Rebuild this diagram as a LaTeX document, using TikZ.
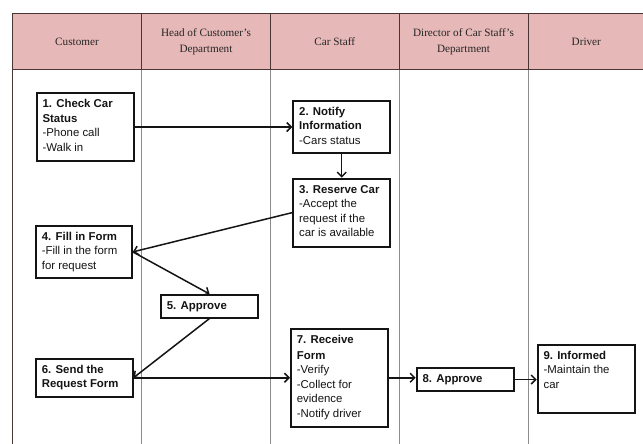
\documentclass[tikz,border=0pt]{standalone}
\usepackage{fontspec}
\setmainfont{Liberation Serif}
\newfontfamily\boxfont{Liberation Sans}
\usetikzlibrary{arrows.meta}

\definecolor{headfill}{HTML}{E6B8B7}
\definecolor{headrule}{HTML}{4A3434}
\definecolor{lanerule}{HTML}{8C8C8C}
\definecolor{ink}{HTML}{141414}

% body of a step box: fixed width/height, text pinned to the top
\newcommand{\stepcontent}[3]{\parbox[c][#2pt][t]{#1pt}{\raggedright\strut#3}}

\tikzset{
  stepbox/.style={draw=ink, line width=1.8pt, fill=white, anchor=north west,
    inner xsep=6pt, inner ysep=4.3pt, text=ink,
    font=\boxfont\fontsize{11.4}{14.5}\selectfont},
  lanehead/.style={align=center, text=black!85,
    font=\fontsize{11.2}{15.7}\selectfont},
  flow/.style={draw=ink, line width=1.5pt,
    -{Straight Barb[length=4.5pt,width=9pt,line width=1.5pt]}},
}

\begin{document}
\begin{tikzpicture}[x=1pt,y=-1pt]
\useasboundingbox (0,0) rectangle (643,444);
\clip (0,0) rectangle (643,444);

% swimlane header band
\fill[headfill] (12.5,13.3) rectangle (644.5,70);
\draw[lanerule, line width=1pt]
  (141.5,70) -- (141.5,444)
  (270.5,70) -- (270.5,444)
  (399,70) -- (399,444)
  (528,70) -- (528,444);
\draw[headrule, line width=1pt]
  (12.5,444) -- (12.5,13.3) -- (644.5,13.3) -- (644.5,444)
  (12.5,70) -- (644.5,70)
  (141.5,13.3) -- (141.5,70)
  (270.5,13.3) -- (270.5,70)
  (399,13.3) -- (399,70)
  (528,13.3) -- (528,70);

\node[lanehead] (hcust) at (77,41.7) {Customer};
\node[lanehead] (hhead) at (206,41.7) {Head of Customer's\\Department};
\node[lanehead] (hstaff) at (334.75,41.7) {Car Staff};
\node[lanehead] (hdir) at (463.5,41.7) {Director of Car Staff's\\Department};
\node[lanehead] (hdrv) at (586.3,41.7) {Driver};

% process steps
\node[stepbox] (b1) at (35.7,92.3)
  {\stepcontent{85}{59.1}{\textbf{1. Check Car}\\\textbf{Status}\\-Phone call\\-Walk in}};
\node[stepbox] (b2) at (292.3,100)
  {\stepcontent{85}{43.4}{\textbf{2. Notify}\\\textbf{Information}\\-Cars status}};
\node[stepbox] (b3) at (292.3,177.7)
  {\stepcontent{85}{59.4}{\textbf{3. Reserve Car}\\-Accept the\\request if the\\car is available}};
\node[stepbox] (b4) at (35,225)
  {\stepcontent{84}{43.4}{\textbf{4. Fill in Form}\\-Fill in the form\\for request}};
\node[stepbox] (b5) at (160,294)
  {\stepcontent{85.3}{14.1}{\textbf{5. Approve}}};
\node[stepbox] (b6) at (35,358)
  {\stepcontent{84.7}{29.1}{\textbf{6. Send the}\\\textbf{Request Form}}};
\node[stepbox] (b7) at (290,328)
  {\stepcontent{85.3}{89.1}{\vspace*{1.5pt}\textbf{7. Receive}\\\textbf{Form}\\-Verify\\-Collect for\\evidence\\-Notify driver}};
\node[stepbox] (b8) at (415.7,367.3)
  {\stepcontent{85.6}{14.1}{\textbf{8. Approve}}};
\node[stepbox] (b9) at (536.7,344)
  {\stepcontent{85.6}{59.1}{\textbf{9. Informed}\\-Maintain the\\car}};

% connectors
\draw[flow] (b1.east) -- (b1.east -| b2.west);
\draw[flow] (b2.south) -- (b3.north);
\draw[flow] (b3.west) -- (b4.east);
\draw[flow] (b4.east) -- (b5.north);
\draw[flow] (b5.south) -- (b6.east);
\draw[flow] (b6.east) -- (b6.east -| b7.west);
\draw[flow] (b7.east) -- (b7.east -| b8.west);
\draw[flow] (b8.east) -- (b8.east -| b9.west);
\end{tikzpicture}
\end{document}
